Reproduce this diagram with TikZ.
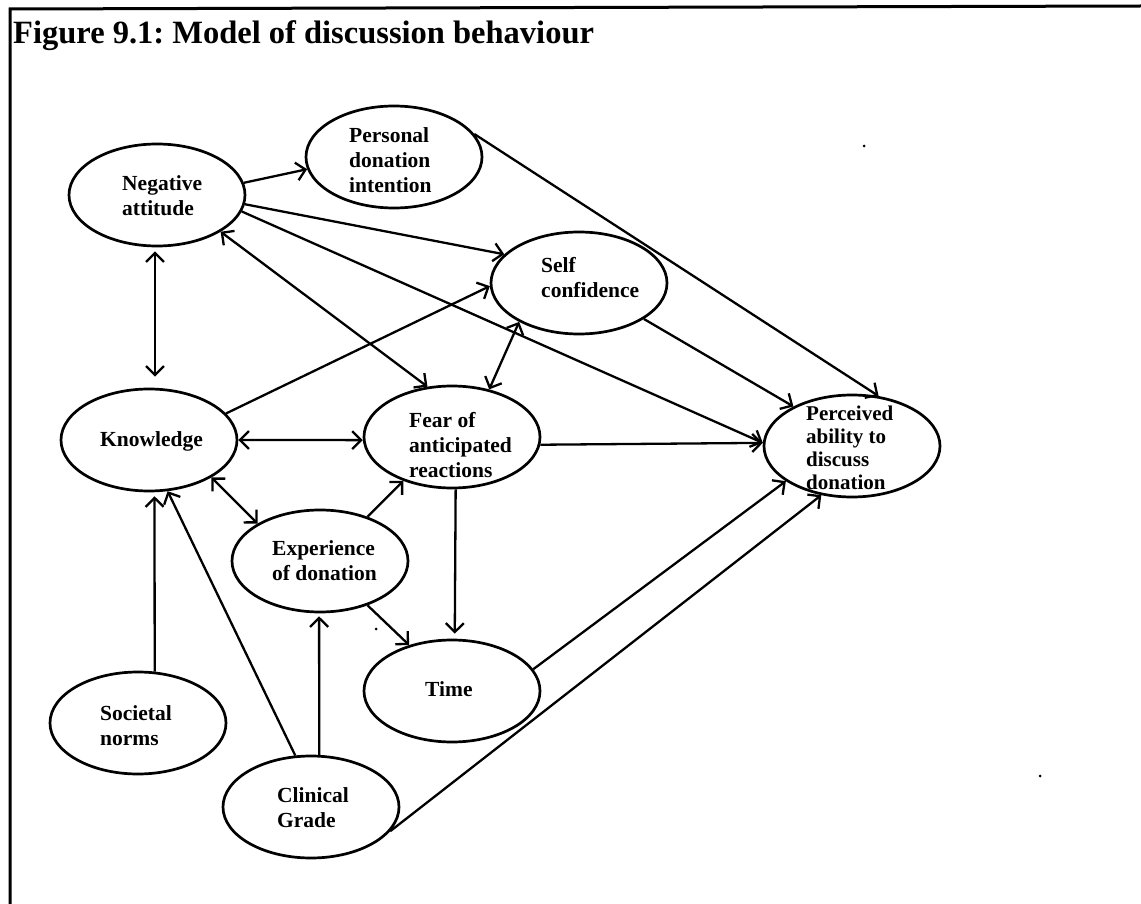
\documentclass[tikz,border=0pt]{standalone}
\usepackage{fontspec}
\setmainfont{Liberation Serif}
\usetikzlibrary{shapes.geometric,arrows.meta}
\frenchspacing
\begin{document}
\begin{tikzpicture}[x=1pt,y=-1pt,
  ell/.style={ellipse,draw,line width=2.7pt,inner sep=0pt,minimum width=176pt,minimum height=102pt},
  lbl/.style={align=left,inner sep=0pt,anchor=west,font=\bfseries\fontsize{21.5}{25}\selectfont},
  con/.style={line width=2.3pt},
  >={Straight Barb[length=9pt,width=18pt]}]
\useasboundingbox (0,0) rectangle (1141,904);
% frame and title
\draw[line width=3pt] (10,904) -- (10,9) -- (1141,6);
\node[anchor=base west,inner sep=0pt,font=\bfseries\fontsize{32.5}{36}\selectfont] (title) at (13,44) {Figure 9.1: Model of discussion behaviour};
% ellipses
\node[ell] (NA) at (157,195) {};
\node[ell] (PD) at (394,157) {};
\node[ell] (SC) at (579,283) {};
\node[ell] (PA) at (852,446) {};
\node[ell] (KN) at (149,440) {};
\node[ell] (FE) at (452,437) {};
\node[ell] (EX) at (320,561) {};
\node[ell] (TI) at (452,691) {};
\node[ell] (CG) at (311,807) {};
\node[ell] (SN) at (138,723) {};
% labels
\node[lbl] (NAt) at (122,196) {Negative\\attitude};
\node[lbl] (PDt) at (349,160) {Personal\\donation\\intention};
\node[lbl] (SCt) at (541,278) {Self\\confidence};
\node[lbl,font=\bfseries\fontsize{21}{23}\selectfont] (PAt) at (806,448) {Perceived\\ability to\\discuss\\donation};
\node[lbl] (KNt) at (100,441) {Knowledge};
\node[lbl] (FEt) at (409,445) {Fear of\\anticipated\\reactions};
\node[lbl] (EXt) at (272,561) {Experience\\of donation};
\node[lbl] (TIt) at (425,689) {Time};
\node[lbl] (SNt) at (100,726) {Societal\\norms};
\node[lbl] (CGt) at (277,808) {Clinical\\Grade};
% connectors
\draw[con,->] (NA.8) -- (PD.188);
\draw[con,->] (NA.-6.5) -- (SC.159.7);
\draw[con,->] (NA.-11.2) -- (PA.178);
\draw[con,<->] (NA.-30.3) -- (FE.116.6);
\draw[con,<->,shorten <=4pt,shorten >=11pt] ([xshift=-2pt]NA.south) -- ([xshift=6pt]KN.north);
\draw[con,->] (KN.19.7) -- (SC.182.6);
\draw[con,<->] (KN.east) -- (FE.182);
\draw[con,<->] (KN.-31.6) -- (EX.149.4);
\draw[con,->,shorten >=4pt] (SN.72) -- (KN.-84.8);
\draw[con,->] (CG.107.7) -- (KN.-70);
\draw[con,->,shorten >=3pt] (CG.81) -- (EX.-91);
\draw[con,->] (EX.43.2) -- (FE.222.5);
\draw[con,->] (EX.-43.7) -- (TI.133.2);
\draw[con,->,shorten >=5pt] (FE.-86.8) -- (TI.87);
\draw[con,<->] (SC.213.7) -- (FE.52.2);
\draw[con,->] (SC.-29.5) -- (PA.146.5);
\draw[con,->] (PD.16.5) -- (PA.62.6);
\draw[con,->] (FE.-5.1) -- (PA.178);
\draw[con,->] (TI.15.7) -- (PA.208.2);
\draw[con,->] (CG.-17.2) -- (PA.238.1);
% specks
\fill (864,146) circle (1.5pt);
\fill (1040,776) circle (1.5pt);
\fill (376,629) circle (1.5pt);
\end{tikzpicture}
\end{document}
